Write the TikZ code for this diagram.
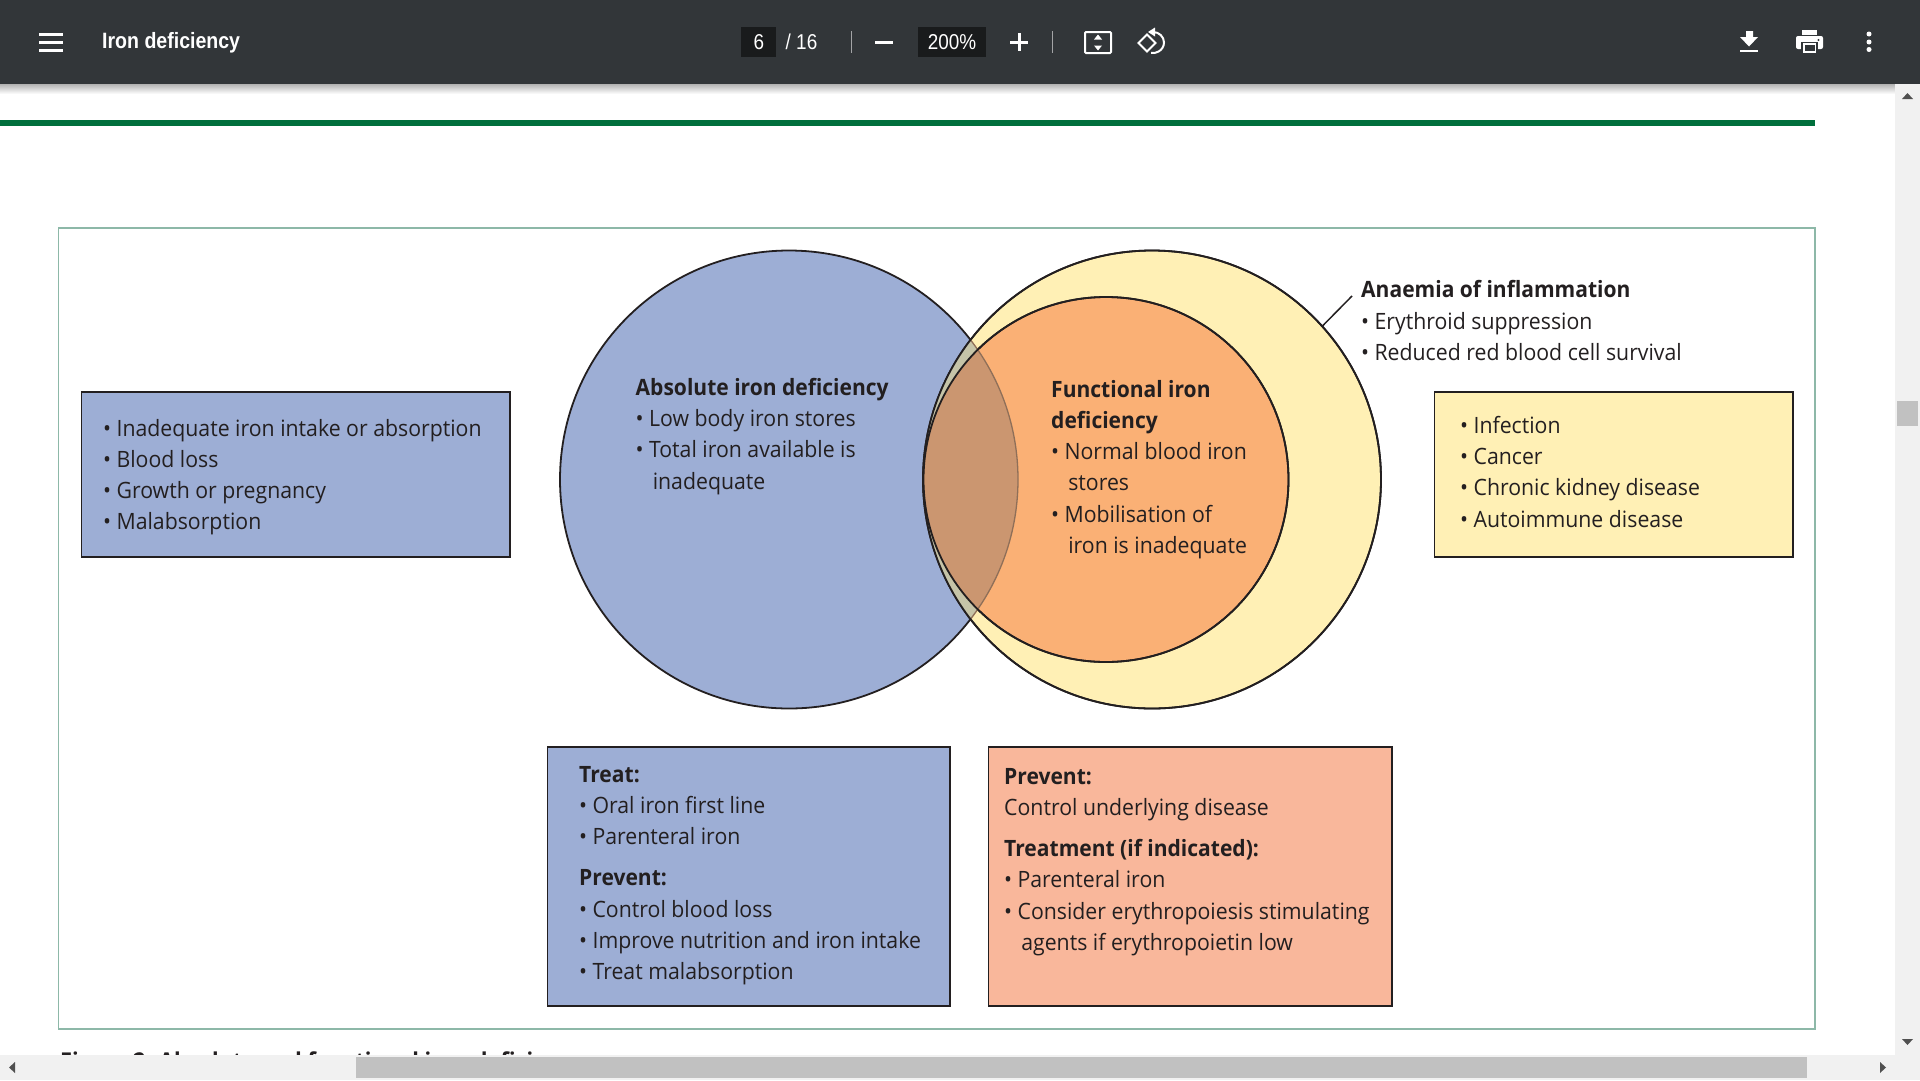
\documentclass[tikz,border=0pt]{standalone}
\usepackage{fontspec}
\setmainfont[FakeStretch=0.945,BoldFeatures={FakeStretch=0.935}]{Open Sans}
\newfontfamily\barfont[FakeStretch=0.88]{Liberation Sans}
\definecolor{barbg}{HTML}{323639}
\definecolor{bardark}{HTML}{191B1C}
\definecolor{ink}{HTML}{231F20}
\definecolor{bluefill}{HTML}{9DAED5}
\definecolor{yellowfill}{HTML}{FFF0B5}
\definecolor{orangefill}{HTML}{FAB075}
\definecolor{salmonfill}{HTML}{F9B79B}
\definecolor{overlapgrey}{HTML}{C6C4A8}
\definecolor{overlapbrown}{HTML}{CB9670}
\definecolor{overlapedge}{HTML}{8F6F58}
\definecolor{framegreen}{HTML}{8DB8A8}
\definecolor{rulegreen}{HTML}{006F3C}
\definecolor{scrolltrack}{HTML}{F1F1F1}
\definecolor{scrollthumb}{HTML}{C1C1C1}
\definecolor{scrollarrow}{HTML}{505050}
\tikzset{
  box/.style={draw=ink,line width=1.8pt,inner sep=0pt,outer sep=0pt,anchor=north west},
  ring/.style={circle,draw=ink,line width=1.8pt,inner sep=0pt,outer sep=0pt},
  copy/.style={inner sep=0pt,anchor=north west,align=left,text=ink,
    font=\fontsize{22.5}{31.2}\selectfont},
  bartext/.style={inner sep=0pt,text=white,font=\barfont\fontsize{21.5}{24}\selectfont},
  baricon/.style={draw=white,line width=2pt},
}
\newcommand{\bl}{\textbullet\hspace{0.24em}}
\newcommand{\ind}{\hspace{0.76em}}
\begin{document}
\begin{tikzpicture}[x=1pt,y=-1pt]
\useasboundingbox (0,0) rectangle (1920,1080);
\fill[white] (0,0) rectangle (1920,1080);

% page rule and figure frame
\fill[rulegreen] (0,120) rectangle (1815,126);
\draw[framegreen,line width=1.5pt] (58.5,228) rectangle (1815,1029);

% circles of the Venn diagram, with the overlaps tinted on top
\node[ring,fill=bluefill,minimum size=458pt] (blue) at (789,479.5) {};
\node[ring,fill=yellowfill,minimum size=458pt] (yellow) at (1152,479.5) {};
\node[ring,fill=orangefill,minimum size=365pt] (orange) at (1106,479.5) {};
\begin{scope}
  \clip (789,479.5) circle (229);
  \fill[overlapgrey] (1152,479.5) circle (229);
  \fill[overlapbrown] (1106,479.5) circle (182.5);
\end{scope}
\begin{scope}
  \clip (1152,479.5) circle (229);
  \draw[overlapedge,line width=1.3pt] (789,479.5) circle (229);
\end{scope}
\draw[ink,line width=1.8pt] (1152,479.5) circle (229);
\draw[ink,line width=1.8pt] (1106,479.5) circle (182.5);

% leader to the anaemia label
\coordinate (leaderend) at (1352,296);
\draw[ink,line width=1.5pt] (yellow.42.5) -- (leaderend);

% text inside and beside the circles
\node[copy] (absolute) at (635.5,378) {\textbf{Absolute iron deficiency}\\\bl Low body iron stores\\\bl Total iron available is\\\ind inadequate};
\node[copy] (functional) at (1051,380) {\textbf{Functional iron}\\\textbf{deficiency}\\\bl Normal blood iron\\\ind stores\\\bl Mobilisation of\\\ind iron is inadequate};
\node[copy] (anaemia) at (1361,280.5) {\textbf{Anaemia of inflammation}\\\bl Erythroid suppression\\\bl Reduced red blood cell survival};

% coloured boxes
\node[box,fill=bluefill,minimum width=428.5pt,minimum height=165pt] (causes) at (81.5,392) {};
\node[copy] (causestext) at (103,419) {\bl Inadequate iron intake or absorption\\\bl Blood loss\\\bl Growth or pregnancy\\\bl Malabsorption};
\node[box,fill=yellowfill,minimum width=358.5pt,minimum height=165pt] (conditions) at (1434.5,392) {};
\node[copy] (conditionstext) at (1460,416) {\bl Infection\\\bl Cancer\\\bl Chronic kidney disease\\\bl Autoimmune disease};
\node[box,fill=bluefill,minimum width=402.5pt,minimum height=259pt] (treatabs) at (547.5,747) {};
\node[copy] (treatabstext) at (579,766) {\textbf{Treat:}\\\bl Oral iron first line\\\bl Parenteral iron\\[10pt]\textbf{Prevent:}\\\bl Control blood loss\\\bl Improve nutrition and iron intake\\\bl Treat malabsorption};
\node[box,fill=salmonfill,minimum width=403.5pt,minimum height=259pt] (treatfun) at (988.5,747) {};
\node[copy] (treatfuntext) at (1004,768) {\textbf{Prevent:}\\Control underlying disease\\[10pt]\textbf{Treatment (if indicated):}\\\bl Parenteral iron\\\bl Consider erythropoiesis stimulating\\\ind agents if erythropoietin low};

% figure caption, cut off by the scroll bar
\node[copy,anchor=base west,font=\bfseries\fontsize{23.2}{26}\selectfont] (caption) at (60,1069.5) {Figure 2: Absolute and functional iron deficiency};

% toolbar with its drop shadow
\shade[top color=black!30,bottom color=white] (0,84) rectangle (1920,94);
\fill[barbg] (0,0) rectangle (1920,84);
\foreach \yy in {34,42,50}{\fill[white] (39,\yy-1.5) rectangle (63,\yy+1.5);}
\node[bartext,anchor=west,font=\barfont\bfseries\fontsize{22.2}{24}\selectfont] (title) at (102,42.5) {Iron deficiency};
\fill[bardark] (741,27) rectangle (776,57);
\node[bartext] (pagenum) at (759,42) {6};
\node[bartext] (pagetotal) at (801.5,42) {/ 16};
\fill[white!55!barbg] (851,31) rectangle (852,53);
\fill[white] (875,41) rectangle (893,43.5);
\fill[bardark] (918,27) rectangle (986,57);
\node[bartext] (zoomlevel) at (952,42) {200\%};
\fill[white] (1010,41) rectangle (1028,43.5);
\fill[white] (1018,33) rectangle (1020.5,51);
\fill[white!55!barbg] (1052,31) rectangle (1053,53);
% fit-to-page icon
\draw[baricon,rounded corners=1pt] (1085,32) rectangle (1111,53);
\fill[white] (1098,34.5) -- (1094,39.5) -- (1102,39.5) -- cycle;
\fill[white] (1098,50.5) -- (1094,45.5) -- (1102,45.5) -- cycle;
% rotate icon
\draw[baricon] (1138.5,43) -- (1147,34.5) -- (1155.5,43) -- (1147,51.5) -- cycle;
\draw[baricon] (1153,32) arc (-90:100:11 and 10.5);
\fill[white] (1148,32) -- (1155,27.5) -- (1155,36.5) -- cycle;
% download icon
\fill[white] (1746,31) -- (1753,31) -- (1753,37) -- (1758,37) -- (1749,46.5) -- (1740,37) -- (1746,37) -- cycle;
\fill[white] (1740,49.5) rectangle (1758,52);
% print icon
\fill[white,rounded corners=2pt] (1796,36) rectangle (1823,49);
\fill[white] (1802,30) rectangle (1817,35);
\fill[barbg] (1801,42) rectangle (1818,54);
\fill[white] (1803,43) rectangle (1816,53);
\fill[barbg] (1805,44.5) rectangle (1814.5,51);
\fill[barbg] (1818.5,40) circle (1.2);
% overflow menu icon
\foreach \yy in {34,42,49.5}{\fill[white] (1869,\yy) circle (2.5);}

% scroll bars
\fill[scrolltrack] (1895,84) rectangle (1920,1080);
\fill[scrolltrack] (0,1055) rectangle (1920,1080);
\fill[scrollthumb] (1897,401) rectangle (1918,426);
\fill[scrollthumb] (356,1057) rectangle (1807,1078);
\fill[scrollarrow] (1902,99) -- (1913,99) -- (1907.5,93) -- cycle;
\fill[scrollarrow] (1902,1039) -- (1913,1039) -- (1907.5,1045) -- cycle;
\fill[scrollarrow] (15,1062) -- (15,1073) -- (9,1067.5) -- cycle;
\fill[scrollarrow] (1880,1062) -- (1880,1073) -- (1886,1067.5) -- cycle;
\end{tikzpicture}
\end{document}
